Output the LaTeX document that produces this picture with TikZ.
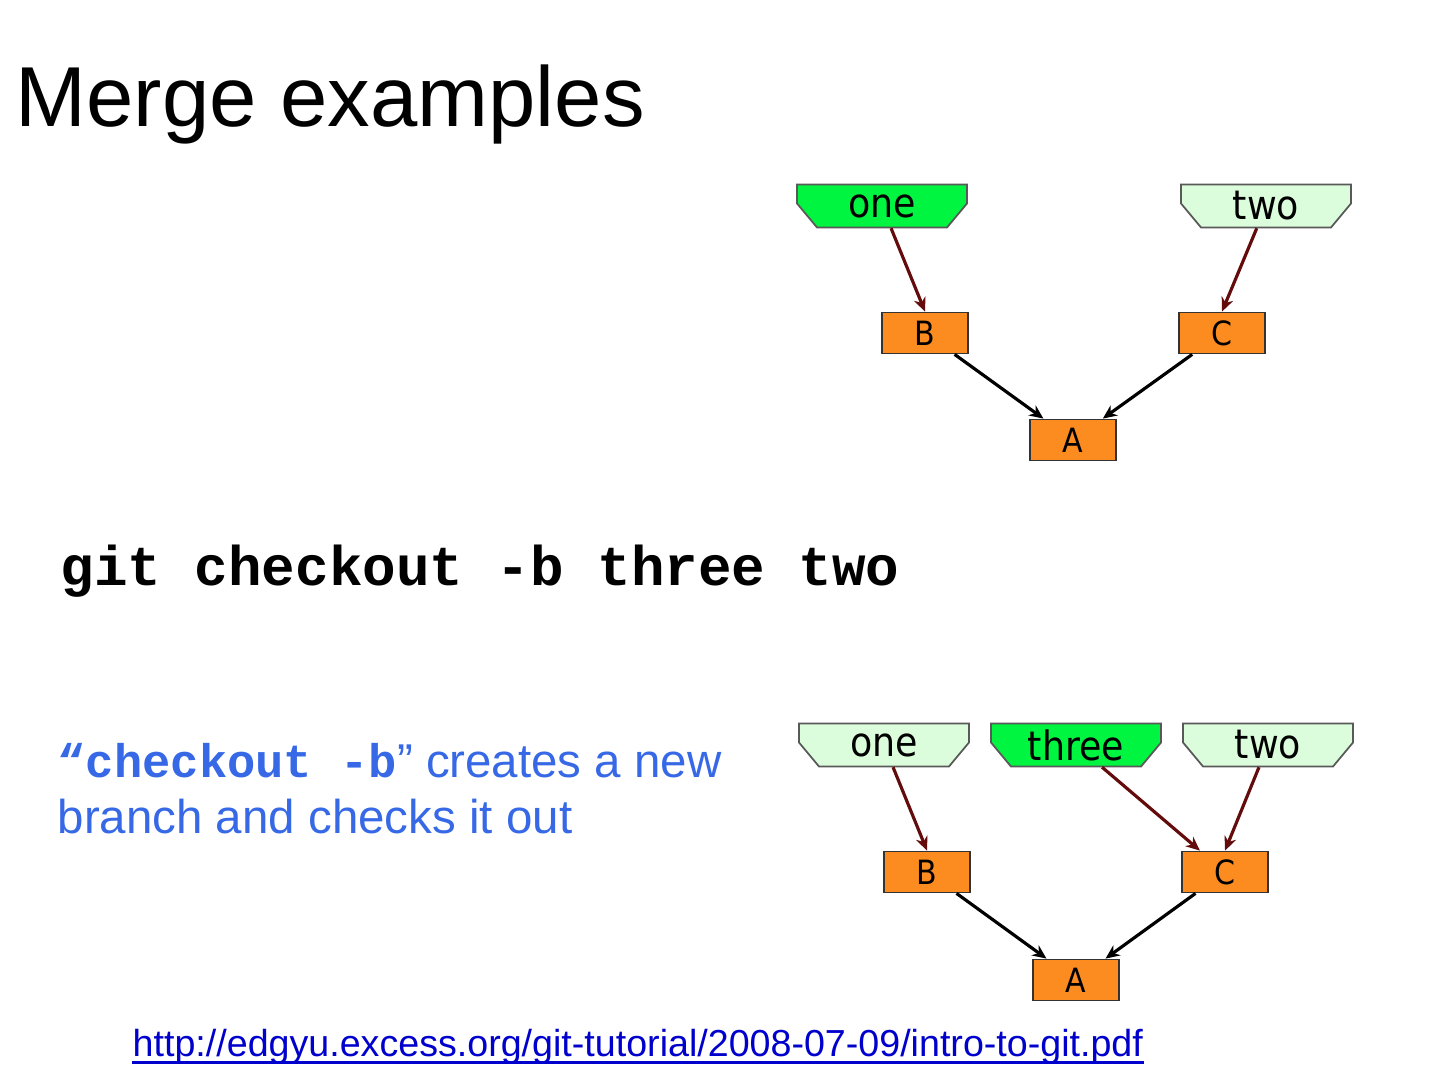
\documentclass[tikz,border=0pt]{standalone}
\usepackage{fontspec}
\setmainfont{Liberation Sans}
\setmonofont{Liberation Mono}
\newfontfamily\tagfont{DejaVu Sans Condensed}
\usepackage{tikz}
\usetikzlibrary{arrows.meta}

\definecolor{headgreen}{RGB}{0,245,64}
\definecolor{palegreen}{RGB}{220,253,220}
\definecolor{commitorange}{RGB}{253,140,32}
\definecolor{refred}{RGB}{100,12,12}
\definecolor{noteblue}{RGB}{55,105,230}
\definecolor{linkblue}{RGB}{0,0,205}

% branch tag: name, x, y, fill, label
\newcommand{\branchtag}[5]{%
  \filldraw[#4,draw=black!65,line width=0.5pt]
    (#2-85,#3-21.5) -- (#2+85,#3-21.5) -- (#2+85,#3-2.5)
    -- (#2+65,#3+21.5) -- (#2-65,#3+21.5) -- (#2-85,#3-2.5) -- cycle;
  \node[tag] (#1) at (#2,#3) {#5};}

\begin{document}
\begin{tikzpicture}[x=0.01cm,y=-0.01cm,
    tag/.style={minimum width=1.7cm,minimum height=0.43cm,inner sep=0pt,
      font=\tagfont\fontsize{11.5}{12}\selectfont},
    commit/.style={draw=black!80,fill=commitorange,line width=0.5pt,
      minimum width=0.86cm,minimum height=0.41cm,inner sep=0pt,
      font=\tagfont\fontsize{9.5}{10}\selectfont},
    refline/.style={refred,line width=0.9pt,-{Stealth[length=4pt,width=3.5pt]}},
    parent/.style={black,line width=0.9pt,-{Stealth[length=4pt,width=3.5pt]}}]
\useasboundingbox (0,0) rectangle (1440,1080);

\node[anchor=base west,inner sep=0pt,font=\fontsize{24.2}{26}\selectfont]
  (title) at (15,127) {Merge examples};

% before
\branchtag{oneA}{882}{206}{headgreen}{one}
\branchtag{twoA}{1266}{206}{palegreen}{two}
\node[commit] (bA) at (925,333) {B};
\node[commit] (cA) at (1222,333) {C};
\node[commit] (aA) at (1073,440) {A};
\draw[refline] (oneA) -- (bA.north);
\draw[refline] (twoA) -- (cA.north);
\draw[parent] (bA) -- (aA);
\draw[parent] (cA) -- (aA);

\node[anchor=base west,inner sep=0pt,font=\ttfamily\bfseries\fontsize{15.9}{17}\selectfont]
  (cmd) at (60,586) {git checkout -b three two};

\node[anchor=base west,inner sep=0pt,align=left,text=noteblue,
  font=\fontsize{13.5}{15.9}\selectfont] (note) at (57,833)
  {{\ttfamily\bfseries\fontsize{13.4}{15.9}\selectfont “checkout -b}” creates a new\\branch and checks it out};

% after
\branchtag{oneB}{884}{745}{palegreen}{one}
\branchtag{threeB}{1076}{745}{headgreen}{three}
\branchtag{twoB}{1268}{745}{palegreen}{two}
\node[commit] (bB) at (927,872) {B};
\node[commit] (cB) at (1225,872) {C};
\node[commit] (aB) at (1076,980) {A};
\draw[refline] (oneB) -- (bB.north);
\draw[refline] (threeB) -- (cB);
\draw[refline] (twoB) -- (cB.north);
\draw[parent] (bB) -- (aB);
\draw[parent] (cB) -- (aB);

\node[anchor=base west,inner sep=0pt,text=linkblue,
  font=\fontsize{10.7}{12}\selectfont] (link) at (132,1056)
  {http://edgyu.excess.org/git-tutorial/2008-07-09/intro-to-git.pdf};
\draw[linkblue,line width=0.7pt] ([yshift=-1.8pt]link.base west) -- ([yshift=-1.8pt]link.base east);
\end{tikzpicture}
\end{document}
